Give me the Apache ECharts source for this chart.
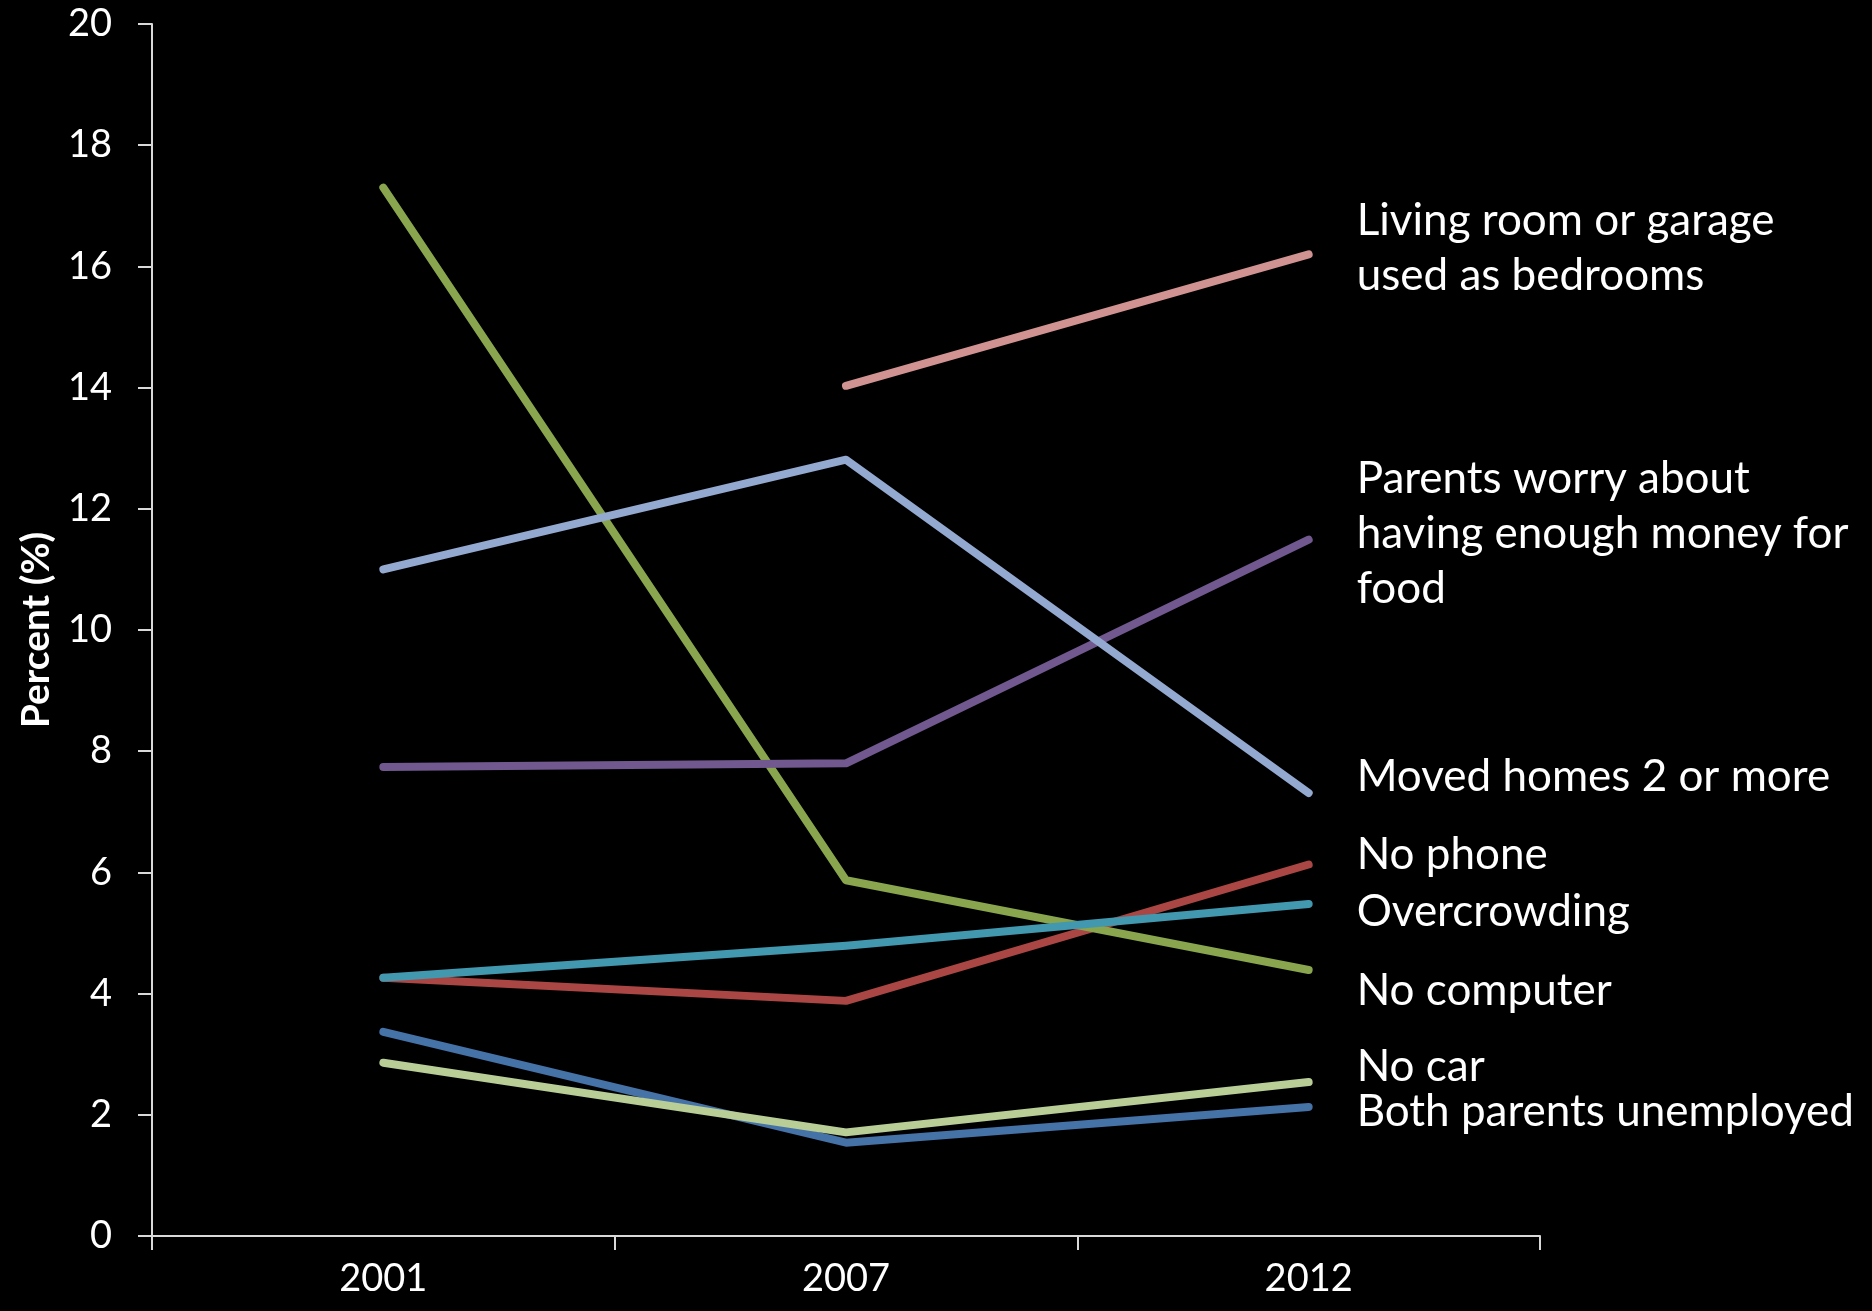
<!DOCTYPE html>
<html>
<head>
<meta charset="utf-8">
<script src="https://cdn.jsdelivr.net/npm/echarts@6/dist/echarts.min.js"></script>
<style>
html,body{margin:0;padding:0;background:#000;}
#chart{width:1872px;height:1311px;}
</style>
</head>
<body>
<div id="chart"></div>
<script>
const years = ['2001', '2007', '2012'];
const seriesNames = [
  'Both parents unemployed',
  'No phone',
  'No computer',
  'Parents worry about\nhaving enough money for\nfood',
  'Overcrowding',
  'Moved homes 2 or more',
  'No car',
  'Living room or garage\nused as bedrooms'
];
const bothParentsUnemployed = [3.37, 1.54, 2.13];
const noPhone = [4.26, 3.88, 6.13];
const noComputer = [17.3, 5.87, 4.39];
const parentsWorry = [7.74, 7.80, 11.49];
const overcrowding = [4.26, 4.79, 5.48];
const movedHomes = [11.0, 12.81, 7.31];
const noCar = [2.86, 1.71, 2.54];
const livingRoom = [null, 14.03, 16.2];
const yTicks = [0, 2, 4, 6, 8, 10, 12, 14, 16, 18, 20];

const allData = [bothParentsUnemployed, noPhone, noComputer, parentsWorry, overcrowding, movedHomes, noCar, livingRoom];
const colors = ['#4572A7', '#AA4643', '#89A54E', '#71588F', '#4198AF', '#93A9CF', '#B9CD96', '#D19392'];
const labelOffsets = [5, -10, 21, -6, 8, -16, -15, -6];

const FONT = 'Lato';

const chart = echarts.init(document.getElementById('chart'));
chart.setOption({
  backgroundColor: '#000',
  animation: false,
  grid: {left: 152, right: 332, top: 24, bottom: 75, containLabel: false},
  xAxis: {
    type: 'category',
    data: years,
    boundaryGap: true,
    axisLine: {lineStyle: {color: '#D9D9D9', width: 2}},
    axisTick: {show: true, length: 14, lineStyle: {color: '#D9D9D9', width: 2}},
    axisLabel: {color: '#fff', fontSize: 38, fontFamily: FONT, margin: 24}
  },
  yAxis: {
    type: 'value',
    min: yTicks[0],
    max: yTicks[yTicks.length - 1],
    interval: 2,
    name: 'Percent (%)',
    nameLocation: 'middle',
    nameGap: 96,
    nameRotate: 90,
    nameTextStyle: {color: '#fff', fontSize: 39, fontWeight: 'bold', fontFamily: FONT},
    axisLine: {show: true, lineStyle: {color: '#D9D9D9', width: 2}},
    axisTick: {show: true, length: 14, lineStyle: {color: '#D9D9D9', width: 2}},
    axisLabel: {color: '#fff', fontSize: 38, fontFamily: FONT, margin: 40},
    splitLine: {show: false}
  },
  series: allData.map((d, i) => ({
    type: 'line',
    name: seriesNames[i],
    data: d,
    showSymbol: false,
    symbol: 'none',
    connectNulls: false,
    lineStyle: {color: colors[i], width: 8, cap: 'round', join: 'round'},
    itemStyle: {color: colors[i]},
    endLabel: {
      show: true,
      formatter: seriesNames[i],
      color: '#fff',
      fontSize: 44,
      fontFamily: FONT,
      lineHeight: 55,
      distance: 48,
      offset: [0, labelOffsets[i]],
      align: 'left',
      verticalAlign: 'middle'
    },
    emphasis: {disabled: true}
  }))
});
</script>
</body>
</html>
